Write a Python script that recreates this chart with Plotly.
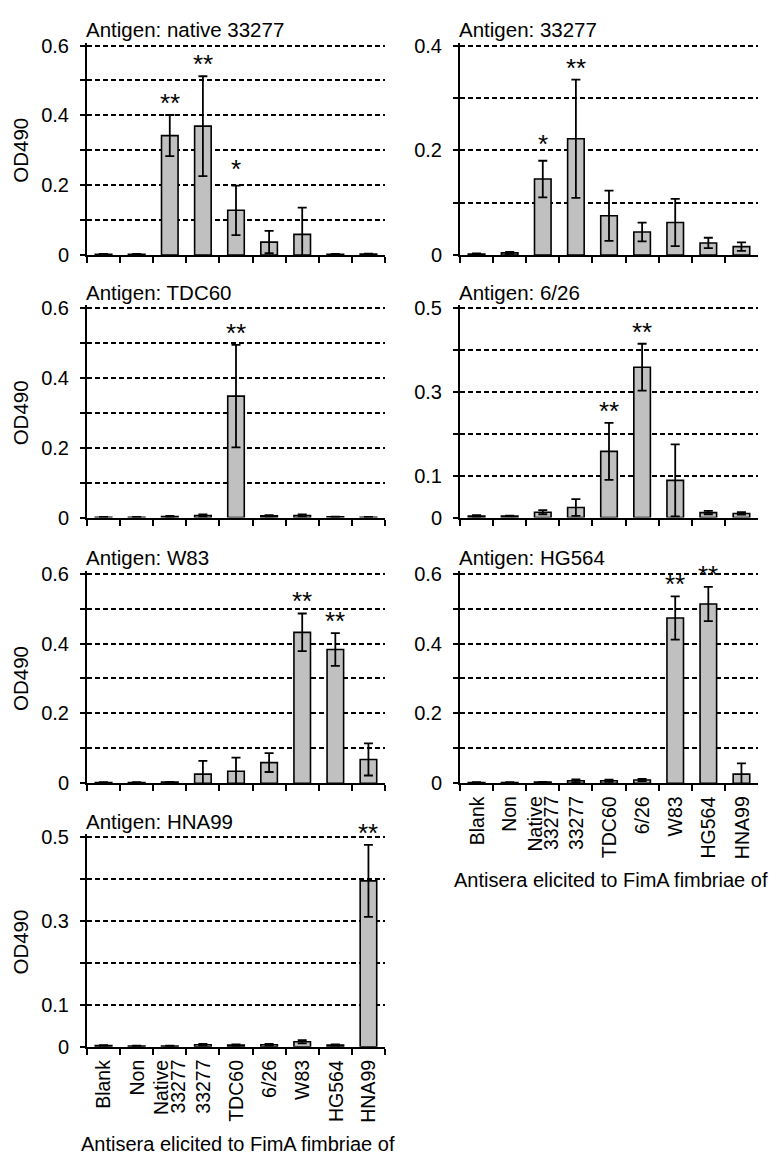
import plotly.graph_objects as go
from plotly.subplots import make_subplots

# ── Data ──────────────────────────────────────────────────────────────────────
strains = ["Blank", "Non", "Native<br>33277", "33277", "TDC60", "6/26", "W83", "HG564", "HNA99"]

antigens = ["native 33277", "33277", "TDC60", "6/26", "W83", "HG564", "HNA99"]

native33277_mean = [0.002, 0.002, 0.342, 0.369, 0.128, 0.037, 0.059, 0.002, 0.003]
native33277_sd   = [0.001, 0.001, 0.059, 0.143, 0.071, 0.032, 0.077, 0.001, 0.001]
native33277_sig  = ["", "", "**", "**", "*", "", "", "", ""]

a33277_mean = [0.002, 0.004, 0.145, 0.222, 0.075, 0.044, 0.062, 0.023, 0.016]
a33277_sd   = [0.001, 0.002, 0.035, 0.113, 0.048, 0.018, 0.045, 0.010, 0.008]
a33277_sig  = ["", "", "*", "**", "", "", "", "", ""]

tdc60_mean = [0.001, 0.001, 0.003, 0.006, 0.348, 0.005, 0.006, 0.002, 0.001]
tdc60_sd   = [0.001, 0.001, 0.002, 0.003, 0.147, 0.002, 0.003, 0.001, 0.001]
tdc60_sig  = ["", "", "", "", "**", "", "", "", ""]

a626_mean = [0.004, 0.004, 0.013, 0.024, 0.158, 0.359, 0.089, 0.012, 0.010]
a626_sd   = [0.002, 0.001, 0.005, 0.020, 0.068, 0.056, 0.086, 0.004, 0.003]
a626_sig  = ["", "", "", "", "**", "**", "", "", ""]

w83_mean = [0.002, 0.002, 0.003, 0.026, 0.034, 0.059, 0.432, 0.383, 0.068]
w83_sd   = [0.001, 0.001, 0.001, 0.038, 0.039, 0.027, 0.054, 0.047, 0.046]
w83_sig  = ["", "", "", "", "", "", "**", "**", ""]

hg564_mean = [0.002, 0.002, 0.003, 0.007, 0.007, 0.009, 0.473, 0.513, 0.026]
hg564_sd   = [0.001, 0.001, 0.001, 0.004, 0.003, 0.003, 0.062, 0.049, 0.031]
hg564_sig  = ["", "", "", "", "", "", "**", "**", ""]

hna99_mean = [0.003, 0.002, 0.002, 0.005, 0.004, 0.005, 0.012, 0.004, 0.396]
hna99_sd   = [0.001, 0.001, 0.001, 0.002, 0.002, 0.002, 0.004, 0.002, 0.086]
hna99_sig  = ["", "", "", "", "", "", "", "", "**"]

# y-axis top and which gridlines carry a label
y_max      = [0.6, 0.4, 0.6, 0.5, 0.6, 0.6, 0.5]
y_labelled = [
    [0, 0.2, 0.4, 0.6],
    [0, 0.2, 0.4],
    [0, 0.2, 0.4, 0.6],
    [0, 0.1, 0.3, 0.5],
    [0, 0.2, 0.4, 0.6],
    [0, 0.2, 0.4, 0.6],
    [0, 0.1, 0.3, 0.5],
]

means = [native33277_mean, a33277_mean, tdc60_mean, a626_mean, w83_mean, hg564_mean, hna99_mean]
sds   = [native33277_sd, a33277_sd, tdc60_sd, a626_sd, w83_sd, hg564_sd, hna99_sd]
sigs  = [native33277_sig, a33277_sig, tdc60_sig, a626_sig, w83_sig, hg564_sig, hna99_sig]

# ── Style ─────────────────────────────────────────────────────────────────────
W, H      = 777, 1157
FONT      = "Liberation Sans, Arial, sans-serif"
BAR_FILL  = "#C0C0C0"
INK       = "#000000"
TOP_PAD   = 3            # px above the top gridline so plotly keeps drawing it

# panel boxes in pixels (left, right) / (top, bottom)
COLS = [(79, 377), (452, 750)]
ROWS = [(30, 243), (297, 510), (567, 780), (835, 1048)]

fig = make_subplots(
    rows=4, cols=2,
    specs=[[{}, {}], [{}, {}], [{}, {}], [{}, None]],
)

for i in range(7):
    r, c = divmod(i, 2)
    n = i + 1
    xs = "" if n == 1 else str(n)

    fig.add_trace(go.Bar(
        x=strains,
        y=means[i],
        marker=dict(color=BAR_FILL, line=dict(color=INK, width=1.6)),
        error_y=dict(type="data", array=sds[i], color=INK, thickness=1.8, width=4.5),
        showlegend=False,
    ), row=r + 1, col=c + 1)

    # ── axes ──────────────────────────────────────────────────────────────────
    xl, xr = COLS[c]
    yt, yb = ROWS[r]
    plot_h = yb - yt
    show_xlabels = n in (6, 7)
    grid_vals = [round(k * 0.1, 1) for k in range(int(round(y_max[i] * 10)) + 1)]
    grid_text = [("0" if v == 0 else f"{v:g}") if v in y_labelled[i] else "" for v in grid_vals]

    fig.update_xaxes(
        domain=[xl / W, xr / W],
        type="category", range=[-0.5, len(strains) - 0.5],
        showline=True, linecolor=INK, linewidth=2,
        ticks="outside", tickson="boundaries", ticklen=6, tickwidth=1.6, tickcolor=INK,
        showticklabels=False,
        showgrid=False,
        row=r + 1, col=c + 1,
    )
    fig.update_yaxes(
        domain=[1 - yb / H, 1 - (yt - TOP_PAD) / H],
        range=[0, y_max[i] * (plot_h + TOP_PAD) / plot_h],
        tickvals=grid_vals, ticktext=grid_text,
        showline=True, linecolor=INK, linewidth=2,
        ticks="outside", ticklen=5, tickwidth=1.6, tickcolor=INK,
        ticklabelstandoff=7,
        tickfont=dict(size=20, color=INK, family=FONT),
        showgrid=True, gridcolor=INK, gridwidth=1.5, griddash="5px,3px",
        zeroline=False,
        row=r + 1, col=c + 1,
    )

    # panel title
    fig.add_annotation(
        text=f"Antigen: {antigens[i]}",
        xref=f"x{xs} domain", yref="paper",
        x=0, y=1 - yt / H, xanchor="left", yanchor="middle",
        xshift=-3, yshift=16, showarrow=False,
        font=dict(size=20.5, color=INK, family=FONT),
    )

    # y title on the left column
    if c == 0:
        fig.add_annotation(
            text="OD490", textangle=-90,
            xref="paper", yref="paper",
            x=12.5 / W, y=1 - (yt + yb) / 2 / H, xanchor="center", yanchor="middle",
            showarrow=False,
            font=dict(size=20.5, color=INK, family=FONT),
        )

    # rotated category labels + x title under the bottom panel of each column
    if show_xlabels:
        for k, label in enumerate(strains):
            lines = label.split("<br>")
            for j, line in enumerate(lines):
                fig.add_annotation(
                    text=line, textangle=-90,
                    xref=f"x{xs}", yref=f"y{xs} domain",
                    x=k, y=0, xanchor="center", yanchor="top",
                    xshift=(j - (len(lines) - 1) / 2) * 16, yshift=-11,
                    showarrow=False,
                    font=dict(size=19.5, color=INK, family=FONT),
                )
        fig.add_annotation(
            text="Antisera elicited to FimA fimbriae of",
            xref=f"x{xs} domain", yref=f"y{xs} domain",
            x=0.5, y=0, xanchor="center", yanchor="middle",
            xshift=2, yshift=-97, showarrow=False,
            font=dict(size=20, color=INK, family=FONT),
        )

    # significance stars (x given as category index)
    for k, (m, sd, sig) in enumerate(zip(means[i], sds[i], sigs[i])):
        if not sig:
            continue
        fig.add_annotation(
            text=sig, xref=f"x{xs}", yref=f"y{xs}",
            x=k, y=m + sd, xanchor="center", yanchor="middle",
            yshift=12 if len(sig) > 1 else 17, showarrow=False,
            font=dict(size=26, color=INK, family=FONT),
        )

fig.update_layout(
    width=W, height=H,
    margin=dict(l=0, r=0, t=0, b=0),
    paper_bgcolor="white", plot_bgcolor="white",
    bargap=0.5,
    font=dict(family=FONT, color=INK),
)

fig.write_html("out.html")
